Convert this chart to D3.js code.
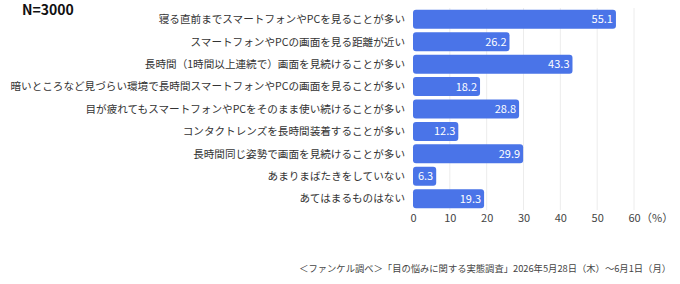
<!DOCTYPE html>
<html lang="ja">
<head>
<meta charset="UTF-8">
<title>目の悩みに関する実態調査</title>
<script src="https://d3js.org/d3.v7.min.js"></script>
<style>
  body { margin: 0; background: #fff; }
  text { font-family: "Noto Sans CJK JP", "Noto Sans", sans-serif; }
</style>
</head>
<body>
<script>
var categories = [
  "寝る直前までスマートフォンやPCを見ることが多い",
  "スマートフォンやPCの画面を見る距離が近い",
  "長時間（1時間以上連続で）画面を見続けることが多い",
  "暗いところなど見づらい環境で長時間スマートフォンやPCの画面を見ることが多い",
  "目が疲れてもスマートフォンやPCをそのまま使い続けることが多い",
  "コンタクトレンズを長時間装着することが多い",
  "長時間同じ姿勢で画面を見続けることが多い",
  "あまりまばたきをしていない",
  "あてはまるものはない"
];
var values = [55.1, 26.2, 43.3, 18.2, 28.8, 12.3, 29.9, 6.3, 19.3];
var ticks = [0, 10, 20, 30, 40, 50, 60];

var width = 680, height = 284;
var plotLeft = 413, plotRight = 634, plotTop = 8, plotBottom = 210;

var svg = d3.select("body").append("svg")
  .attr("width", width)
  .attr("height", height);

var x = d3.scaleLinear().domain([0, 60]).range([plotLeft, plotRight]);
var y = d3.scaleBand().domain(categories).range([plotTop, plotBottom]).paddingInner(0.15).paddingOuter(0.08);

// grid
svg.selectAll("line.grid")
  .data(ticks.slice(1))
  .enter().append("line")
  .attr("class", "grid")
  .attr("x1", d => x(d)).attr("x2", d => x(d))
  .attr("y1", plotTop).attr("y2", plotBottom)
  .attr("stroke", "#ececec")
  .attr("stroke-width", 1);

// bars
svg.selectAll("rect.bar")
  .data(values)
  .enter().append("rect")
  .attr("class", "bar")
  .attr("x", x(0))
  .attr("y", (d, i) => y(categories[i]))
  .attr("width", d => x(d) - x(0))
  .attr("height", y.bandwidth())
  .attr("rx", 3)
  .attr("fill", "#4a74e8");

svg.selectAll("text.val")
  .data(values)
  .enter().append("text")
  .attr("class", "val")
  .attr("x", d => x(d) - 3)
  .attr("y", (d, i) => y(categories[i]) + y.bandwidth() / 2)
  .attr("dy", "0.36em")
  .attr("text-anchor", "end")
  .attr("fill", "#fff")
  .attr("font-size", 11)
  .text(d => d.toFixed(1));

// category labels
svg.selectAll("text.cat")
  .data(categories)
  .enter().append("text")
  .attr("class", "cat")
  .attr("x", plotLeft - 8)
  .attr("y", d => y(d) + y.bandwidth() / 2)
  .attr("dy", "0.36em")
  .attr("text-anchor", "end")
  .attr("fill", "#333")
  .attr("font-size", 10.6)
  .text(d => d);

// x axis
var xAxis = d3.axisBottom(x).tickValues(ticks).tickSize(0).tickPadding(4);
var gx = svg.append("g")
  .attr("transform", "translate(0," + plotBottom + ")")
  .call(xAxis);
gx.select(".domain").remove();
gx.selectAll("text")
  .attr("font-size", 11)
  .attr("fill", "#444")
  .style("font-family", '"Noto Sans CJK JP", sans-serif');

svg.append("text")
  .attr("x", x(60) + 7)
  .attr("y", plotBottom + 8)
  .attr("dy", "0.36em")
  .attr("font-size", 11)
  .attr("fill", "#444")
  .text("（%）");

svg.append("text")
  .attr("x", 22)
  .attr("y", 15)
  .attr("font-size", 14)
  .attr("font-weight", "bold")
  .attr("fill", "#111")
  .text("N=3000");

svg.append("text")
  .attr("x", 671)
  .attr("y", 269)
  .attr("dy", "0.36em")
  .attr("text-anchor", "end")
  .attr("font-size", 9.3)
  .attr("fill", "#444")
  .text("＜ファンケル調べ＞「目の悩みに関する実態調査」2026年5月28日（木）～6月1日（月）");
</script>
</body>
</html>
